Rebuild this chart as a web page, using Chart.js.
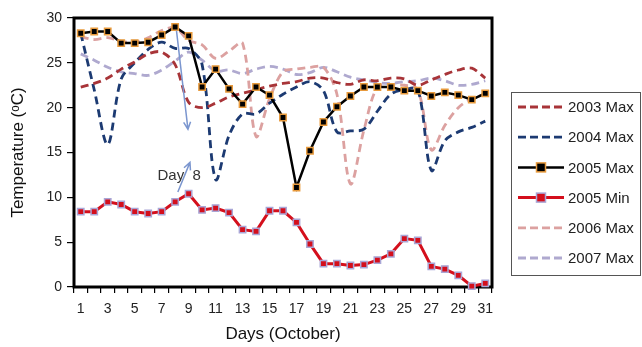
<!DOCTYPE html>
<html>
<head>
<meta charset="utf-8">
<script src="https://cdn.jsdelivr.net/npm/chart.js@4.4.1/dist/chart.umd.min.js"></script>
<style>
  html, body { margin: 0; padding: 0; background: #fff; }
  #wrap { width: 642px; height: 347px; }
</style>
</head>
<body>
<div id="wrap"><canvas id="tempChart" width="642" height="347"></canvas></div>
<script>
// Données (jours d'octobre)
const days = [1, 2, 3, 4, 5, 6, 7, 8, 9, 10, 11, 12, 13, 14, 15, 16, 17, 18, 19, 20, 21, 22, 23, 24, 25, 26, 27, 28, 29, 30, 31];
const max2003 = [22.3, 22.7, 23.3, 24.3, 25.1, 26.0, 26.2, 24.8, 20.6, 20.0, 20.5, 21.2, 21.6, 22.0, 22.4, 22.7, 22.9, 23.3, 23.3, 22.8, 22.6, 23.1, 23.0, 23.3, 23.2, 22.5, 23.1, 23.7, 24.2, 24.4, 23.3];
const max2004 = [28.3, 22.0, 15.9, 23.2, 25.0, 26.5, 27.3, 26.6, 26.6, 24.8, 12.0, 16.9, 19.3, 19.3, 20.5, 21.5, 22.3, 22.9, 21.9, 17.3, 17.4, 17.6, 19.6, 21.5, 22.0, 22.0, 13.0, 16.3, 17.3, 17.8, 18.5];
const max2005 = [28.3, 28.5, 28.5, 27.2, 27.2, 27.3, 28.1, 29.0, 28.0, 22.3, 24.3, 22.1, 20.4, 22.3, 21.4, 18.9, 11.1, 15.2, 18.4, 20.1, 21.3, 22.3, 22.3, 22.3, 21.9, 21.9, 21.3, 21.7, 21.4, 20.9, 21.6];
const min2005 = [8.4, 8.4, 9.5, 9.2, 8.4, 8.2, 8.4, 9.5, 10.4, 8.6, 8.8, 8.3, 6.4, 6.2, 8.5, 8.5, 7.2, 4.8, 2.6, 2.6, 2.4, 2.5, 3.0, 3.7, 5.4, 5.2, 2.3, 2.0, 1.3, 0.1, 0.4];
const max2006 = [27.9, 27.6, 27.8, 27.4, 27.3, 27.8, 28.6, 28.9, 27.5, 27.0, 25.5, 26.3, 27.2, 16.8, 21.0, 24.0, 24.3, 24.5, 24.5, 21.5, 11.5, 17.5, 22.3, 22.5, 22.5, 22.0, 15.3, 18.0, 20.0, 21.0, 21.5];
const max2007 = [26.0, 25.3, 24.5, 24.0, 23.8, 23.6, 24.2, 25.2, 26.2, 25.3, 24.1, 24.2, 23.8, 24.3, 24.6, 24.3, 23.7, 23.9, 24.5, 24.0, 23.4, 23.1, 22.8, 22.7, 22.9, 23.0, 23.3, 23.0, 22.5, 22.6, 23.0];
const yTicks = [0, 5, 10, 15, 20, 25, 30];

const FONT = "'Liberation Sans', Arial, sans-serif";

function dashed(label, data, color, order) {
    return {
        label: label,
        data: data,
        borderColor: color,
        borderWidth: 2.8,
        borderDash: [8, 5],
        tension: 0.33,
        pointRadius: 0,
        fill: false,
        order: order
    };
}

function squares(label, data, line, fillColor, edge, width, order) {
    return {
        label: label,
        data: data,
        borderColor: line,
        borderWidth: width,
        tension: 0,
        pointStyle: 'rect',
        pointRadius: 4.5,
        pointBackgroundColor: fillColor,
        pointBorderColor: edge,
        pointBorderWidth: 1.5,
        fill: false,
        clip: false,
        order: order
    };
}

// Cadre, flèches et texte "Day 8"
const framePlugin = {
    id: 'frame',
    beforeDatasetsDraw(chart) {
        const ctx = chart.ctx;
        const a = chart.chartArea;
        ctx.save();
        ctx.strokeStyle = '#000';
        ctx.lineWidth = 3;
        ctx.strokeRect(a.left, a.top, a.right - a.left, a.bottom - a.top);
        ctx.restore();
    },
    afterDatasetsDraw(chart) {
        const ctx = chart.ctx;
        const x = chart.scales.x;
        const y = chart.scales.y;
        ctx.save();

        // flèches
        function arrow(d0, v0, d1, v1) {
            const x0 = x.getPixelForValue(d0 - 1), y0 = y.getPixelForValue(v0);
            const x1 = x.getPixelForValue(d1 - 1), y1 = y.getPixelForValue(v1);
            const ang = Math.atan2(y1 - y0, x1 - x0);
            ctx.strokeStyle = '#7b96cf';
            ctx.lineWidth = 1.5;
            ctx.beginPath();
            ctx.moveTo(x0, y0);
            ctx.lineTo(x1, y1);
            ctx.moveTo(x1 - 8 * Math.cos(ang - 0.45), y1 - 8 * Math.sin(ang - 0.45));
            ctx.lineTo(x1, y1);
            ctx.lineTo(x1 - 8 * Math.cos(ang + 0.45), y1 - 8 * Math.sin(ang + 0.45));
            ctx.stroke();
        }
        arrow(8.1, 28.6, 8.95, 17.6);
        arrow(8.2, 10.6, 9.1, 13.9);

        ctx.fillStyle = '#333';
        ctx.font = '15px ' + FONT;
        ctx.textAlign = 'center';
        ctx.textBaseline = 'middle';
        ctx.fillText('Day  8', x.getPixelForValue(7.3), y.getPixelForValue(12.4));
        ctx.restore();
    },
    afterDraw(chart) {
        // légende dans un cadre à droite
        const ctx = chart.ctx;
        const sets = chart.data.datasets;
        const left = 511, top = 92, w = 130, h = 183;
        ctx.save();
        ctx.strokeStyle = '#555';
        ctx.lineWidth = 1;
        ctx.strokeRect(left + 0.5, top + 0.5, w - 1, h);
        sets.forEach(function(ds, i) {
            const cy = top + 15 + i * 30.2;
            ctx.strokeStyle = ds.borderColor;
            ctx.lineWidth = ds.pointRadius ? ds.borderWidth : 2.8;
            ctx.setLineDash(ds.borderDash ? [8, 4] : []);
            ctx.beginPath();
            ctx.moveTo(518, cy);
            ctx.lineTo(564, cy);
            ctx.stroke();
            ctx.setLineDash([]);
            if (ds.pointRadius) {
                ctx.fillStyle = ds.pointBackgroundColor;
                ctx.strokeStyle = ds.pointBorderColor;
                ctx.lineWidth = 1.5;
                ctx.fillRect(536.5, cy - 4.5, 9, 9);
                ctx.strokeRect(536.5, cy - 4.5, 9, 9);
            }
            ctx.fillStyle = '#222';
            ctx.font = '15px ' + FONT;
            ctx.textAlign = 'left';
            ctx.textBaseline = 'middle';
            ctx.fillText(ds.label, 568, cy + 1);
        });
        ctx.restore();
    }
};

const tempChart = new Chart(document.getElementById('tempChart'), {
    type: 'line',
    data: {
        labels: days,
        datasets: [
            dashed('2003 Max', max2003, '#a83438', 3),
            dashed('2004 Max', max2004, '#1c3a72', 3),
            squares('2005 Max', max2005, '#000', '#000', '#e89a3c', 2.5, 0),
            squares('2005 Min', min2005, '#d40f1c', '#d40f1c', '#a9a6d6', 3, 1),
            dashed('2006 Max', max2006, '#dca1a0', 4),
            dashed('2007 Max', max2007, '#afa9cf', 4)
        ]
    },
    options: {
        responsive: false,
        animation: false,
        devicePixelRatio: 1,
        layout: { padding: { top: 18, right: 150, left: 0, bottom: 0 } },
        plugins: {
            legend: { display: false },
            tooltip: { enabled: false }
        },
        scales: {
            x: {
                type: 'category',
                offset: true,
                grid: { display: true, offset: true, drawOnChartArea: false, drawTicks: true, tickLength: 6, color: '#000', lineWidth: 1.2 },
                border: { display: false },
                ticks: {
                    autoSkip: false,
                    maxRotation: 0,
                    padding: 8,
                    color: '#222',
                    font: { family: FONT, size: 14 },
                    callback: function(v, i) { return i % 2 === 0 ? days[i] : ''; }
                },
                title: { display: true, text: 'Days (October)', color: '#111', font: { family: FONT, size: 17 }, padding: { top: 0, bottom: 2 } },
                afterFit: function(s) { s.height = 60; }
            },
            y: {
                min: 0,
                max: 30,
                afterBuildTicks: function(s) { s.ticks = yTicks.map(v => ({ value: v })); },
                grid: { display: true, drawOnChartArea: false, drawTicks: true, tickLength: 7, color: '#000', lineWidth: 1.2 },
                border: { display: false },
                ticks: { padding: 5, color: '#222', font: { family: FONT, size: 14 } },
                title: { display: true, text: 'Temperature (ᵒC)', color: '#111', font: { family: FONT, size: 17 }, padding: { top: 8, bottom: 0 } },
                afterFit: function(s) { s.width = 74; }
            }
        }
    },
    plugins: [framePlugin]
});
</script>
</body>
</html>
